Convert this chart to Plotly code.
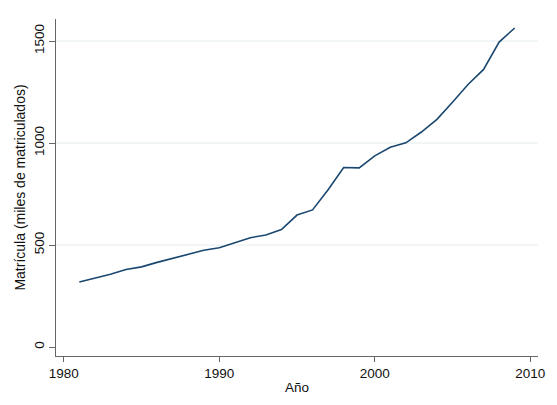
import plotly.graph_objects as go

years = list(range(1981, 2010))
matricula = [319, 337, 357, 380, 393, 415, 435, 455, 474, 487, 510, 536, 549, 576, 647, 672, 771, 880, 878, 937, 979, 1001, 1054, 1116, 1200, 1287, 1361, 1495, 1564]

x_ticks = [1980, 1990, 2000, 2010]
y_ticks = [0, 500, 1000, 1500]
grid_vals = [500, 1000, 1500]

y_range = [-44, 1608]

fig = go.Figure()
fig.add_trace(go.Scatter(x=years, y=matricula, mode="lines",
                         line=dict(color="#1a476f", width=1.6), showlegend=False))

for g in grid_vals:
    fig.add_hline(y=g, line=dict(color="#e6ecec", width=1), layer="below")

fig.update_layout(
    width=557, height=405,
    margin=dict(l=56, r=14, t=19, b=49),
    paper_bgcolor="white", plot_bgcolor="white",
    font=dict(family="Liberation Sans, Arial, sans-serif", size=13.5, color="#111"),
)
fig.update_xaxes(
    range=[1979.5, 2010.5], tickvals=x_ticks, ticks="outside", ticklen=5,
    tickcolor="#666", showline=True, linecolor="#666", linewidth=1.2,
    showgrid=False, zeroline=False,
    title=dict(text="Año", standoff=2, font=dict(size=13.5)),
)
fig.update_yaxes(
    range=y_range, tickvals=y_ticks, ticks="outside", ticklen=6,
    tickcolor="#666", showline=True, linecolor="#666", linewidth=1.2,
    showgrid=False, zeroline=False,
    tickangle=-90,
    title=dict(text="Matrícula (miles de matriculados)", standoff=2, font=dict(size=14)),
)
fig.write_html("out.html")
